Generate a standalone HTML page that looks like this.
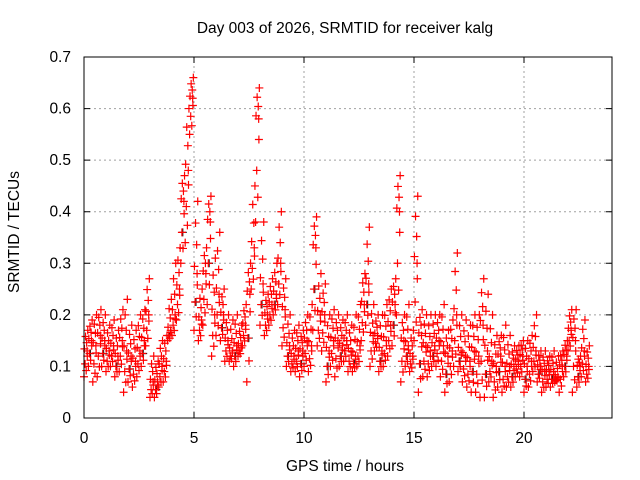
<!DOCTYPE html>
<html><head><meta charset="utf-8"><style>
body{margin:0;background:#fff}
svg{display:block;font-family:"Liberation Sans",sans-serif;font-size:15.5px}
</style></head><body>
<svg id="c" width="640" height="480">
<text x="345" y="33" text-anchor="middle">Day 003 of 2026, SRMTID for receiver kalg</text>
<text transform="translate(19,232) rotate(-90)" text-anchor="middle">SRMTID / TECUs</text>
<text x="345" y="471" text-anchor="middle">GPS time / hours</text>
<g id="grid"></g><g id="marks"></g>
<rect x="84" y="57" width="528" height="361" fill="none" stroke="#000"/>
</svg>
<script>
const xTicks=[0,5,10,15,20];
const yTicks=[0,0.1,0.2,0.3,0.4,0.5,0.6,0.7];
const yTickLabels=["0","0.1","0.2","0.3","0.4","0.5","0.6","0.7"];
const tStep=0.2;
const hi=[.17,.19,.2,.21,.2,.18,.19,.17,.21,.23,.18,.17,.2,.21,.27,.12,.11,.15,.16,.23,.3,.33,.47,.6,.66,.42,.25,.33,.43,.31,.36,.25,.2,.19,.2,.18,.22,.3,.45,.64,.38,.24,.27,.3,.4,.27,.2,.17,.18,.17,.2,.22,.39,.28,.26,.2,.21,.2,.19,.2,.18,.2,.22,.28,.37,.22,.2,.2,.22,.25,.27,.47,.2,.22,.17,.43,.21,.2,.2,.2,.2,.22,.17,.19,.32,.2,.19,.18,.2,.2,.27,.24,.2,.16,.16,.18,.16,.14,.14,.15,.15,.16,.2,.13,.13,.12,.13,.12,.13,.15,.21,.21,.12,.19,.14];
const mid=[.13,.15,.14,.16,.15,.13,.14,.12,.15,.13,.12,.11,.13,.15,.2,.07,.07,.1,.11,.17,.2,.25,.42,.48,.62,.28,.19,.28,.38,.2,.24,.2,.15,.13,.14,.14,.18,.24,.33,.58,.26,.2,.22,.24,.3,.21,.14,.12,.13,.13,.15,.14,.33,.2,.2,.13,.15,.15,.14,.15,.13,.12,.14,.22,.26,.16,.16,.13,.15,.18,.22,.4,.15,.14,.12,.3,.16,.14,.13,.14,.15,.14,.12,.13,.2,.13,.12,.11,.13,.12,.18,.13,.11,.1,.12,.1,.1,.1,.11,.12,.1,.11,.13,.1,.09,.09,.09,.08,.1,.12,.17,.15,.1,.13,.1];
const lo=[.08,.1,.07,.08,.1,.09,.1,.08,.09,.05,.07,.06,.08,.1,.14,.04,.04,.06,.07,.15,.16,.19,.3,.34,.55,.17,.15,.18,.22,.12,.16,.15,.11,.11,.1,.12,.14,.07,.25,.38,.18,.16,.18,.2,.22,.14,.1,.09,.09,.08,.1,.09,.17,.14,.13,.07,.1,.08,.1,.11,.09,.09,.1,.15,.18,.1,.13,.09,.1,.12,.14,.2,.07,.1,.09,.15,.05,.08,.08,.1,.1,.08,.05,.07,.1,.09,.07,.06,.05,.05,.04,.04,.07,.04,.06,.05,.06,.06,.08,.08,.05,.06,.09,.07,.05,.06,.06,.07,.05,.08,.13,.05,.06,.08,.07];
const X0=84,X1=612,Y0=418,Y1=57,XMAX=24,YMAX=0.7;
const sx=v=>X0+v/XMAX*(X1-X0);
const sy=v=>Y0-v/YMAX*(Y0-Y1);
const NS="http://www.w3.org/2000/svg";
const grid=document.getElementById('grid'),marks=document.getElementById('marks');
function mk(t,a){const e=document.createElementNS(NS,t);for(const k in a)e.setAttribute(k,a[k]);return e;}
xTicks.forEach((v,i)=>{
 const x=sx(v);
 if(i>0){const g=mk('line',{x1:x,x2:x,y1:Y0,y2:Y1,stroke:'#a0a0a0','stroke-dasharray':'2,3'});
 
 grid.appendChild(g);}
 const tk=mk('path',{d:`M${x},${Y0}v-6M${x},${Y1}v6`,stroke:'#000'});
 
 grid.appendChild(tk);
 const t=mk('text',{x:x,y:Y0+25,'text-anchor':'middle'});t.textContent=v;
 
 grid.appendChild(t);
});
yTicks.forEach((v,i)=>{
 const y=sy(v);
 if(i>0&&i<yTicks.length-1){const g=mk('line',{x1:X0,x2:X1,y1:y,y2:y,stroke:'#a0a0a0','stroke-dasharray':'2,3'});
 
 grid.appendChild(g);}
 const tk=mk('path',{d:`M${X0},${y}h6M${X1},${y}h-6`,stroke:'#000'});
 
 grid.appendChild(tk);
 const t=mk('text',{x:X0-13,y:y+5,'text-anchor':'end'});t.textContent=yTickLabels[i];
 
 grid.appendChild(t);
});
function plus(x,y,c){
 const p=mk('path',{d:`M${x-4},${y}h8M${x},${y-4}v8`,stroke:c,'stroke-width':1.2});
 
 
 marks.appendChild(p);
}
const fr=[0,0.12,0.25,0.4,0.55,0.7,0.85,1];
const offs=[0,0.1,0.05,0.15,0.02,0.12,0.07,0.17];
hi.forEach((h,i)=>{
 const t=i*tStep,l=lo[i],m=mid[i];
 if(i%3===1)plus(sx(t+0.09),sy((l+m)/2),'#222');
 fr.forEach((f,k)=>{
  const v=f<=0.5?l+(m-l)*(f/0.5):m+(h-m)*((f-0.5)/0.5);
  plus(sx(t+offs[k]),sy(v),'#ff0000');
 });
 plus(sx(t+0.14),sy(m),'#ff0000');
});
</script>
</body></html>
